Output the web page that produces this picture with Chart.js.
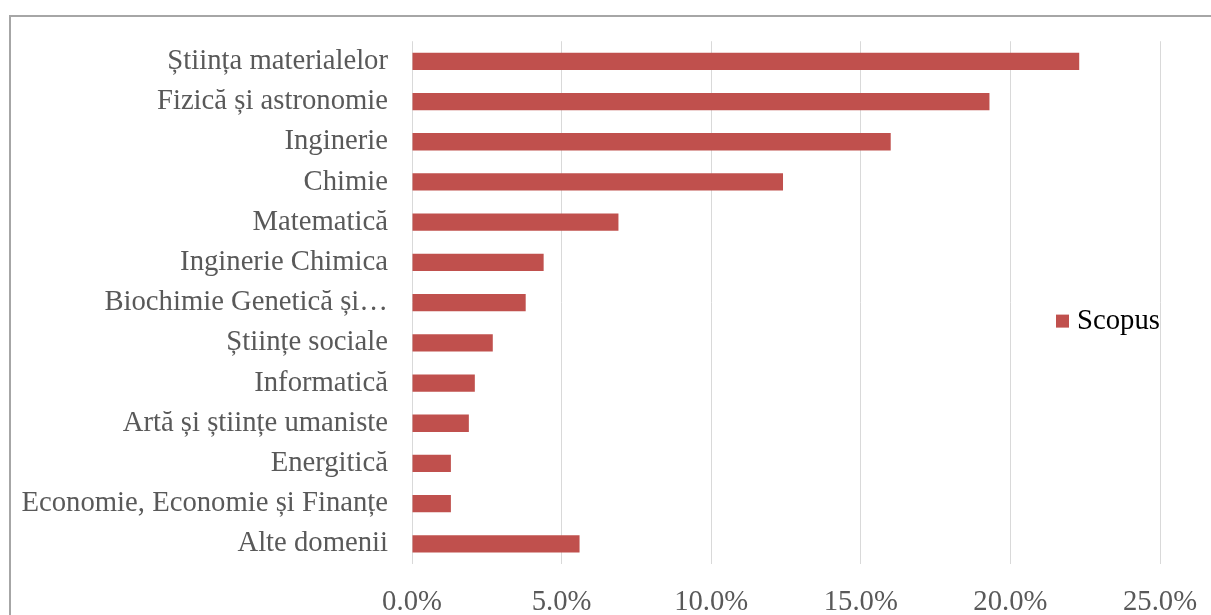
<!DOCTYPE html>
<html>
<head>
<meta charset="utf-8">
<script src="https://cdn.jsdelivr.net/npm/chart.js@4/dist/chart.umd.min.js"></script>
<style>
  html, body { margin: 0; padding: 0; background: #fff; overflow: hidden; }
  #wrap { width: 1211px; height: 615px; position: relative; }
</style>
</head>
<body>
<div id="wrap"><canvas id="grafico" width="1211" height="615"></canvas></div>
<script>
// Domenii (categorii) și ponderi Scopus (%)
const categorii = [
    'Știința materialelor',
    'Fizică și astronomie',
    'Inginerie',
    'Chimie',
    'Matematică',
    'Inginerie Chimica',
    'Biochimie Genetică și…',
    'Științe sociale',
    'Informatică',
    'Artă și științe umaniste',
    'Energitică',
    'Economie, Economie și Finanțe',
    'Alte domenii'
];
const scopus = [22.3, 19.3, 16.0, 12.4, 6.9, 4.4, 3.8, 2.7, 2.1, 1.9, 1.3, 1.3, 5.6];
const numeSerie = 'Scopus';
const tickuriX = [0, 5, 10, 15, 20, 25];

const culoareBara = '#c0504d';
const font = 'Liberation Serif, Times New Roman, serif';
const marimeFont = 28.7;

// Ramă în jurul graficului
const ramaPlugin = {
    id: 'rama',
    beforeDraw(chart) {
        const c = chart.ctx;
        c.save();
        c.fillStyle = '#fff';
        c.fillRect(0, 0, chart.width, chart.height);
        c.strokeStyle = '#a6a6a6';
        c.lineWidth = 2;
        c.strokeRect(10, 16, chart.width + 50, chart.height + 50);
        c.restore();
    }
};

// Legenda în interiorul zonei graficului, în dreapta
const legendaPlugin = {
    id: 'legenda',
    afterDraw(chart) {
        const c = chart.ctx;
        const a = chart.chartArea;
        const y = (a.top + a.bottom) / 2 + 19;
        const x = a.right - 104;
        c.save();
        c.fillStyle = culoareBara;
        c.fillRect(x, y - 7, 13, 13);
        c.fillStyle = '#000';
        c.font = marimeFont + 'px ' + font;
        c.textBaseline = 'middle';
        c.fillText(numeSerie, x + 21, y);
        c.restore();
    }
};

const ctx = document.getElementById('grafico').getContext('2d');
const myChart = new Chart(ctx, {
    type: 'bar',
    data: {
        labels: categorii,
        datasets: [{
            label: numeSerie,
            data: scopus,
            backgroundColor: culoareBara,
            borderWidth: 0,
            categoryPercentage: 0.43,
            barPercentage: 1
        }]
    },
    options: {
        indexAxis: 'y',
        responsive: false,
        animation: false,
        layout: { padding: { top: 41, right: 51, left: 0, bottom: 0 } },
        plugins: {
            legend: { display: false },
            tooltip: { enabled: false }
        },
        scales: {
            x: {
                min: 0,
                max: 25,
                afterBuildTicks(scale) {
                    scale.ticks = tickuriX.map(v => ({ value: v }));
                },
                afterFit(scale) {
                    scale.height = 51;
                    scale.paddingLeft = 0;
                    scale.paddingRight = 0;
                },
                grid: { color: '#d9d9d9', lineWidth: 1, drawTicks: false },
                border: { display: false },
                ticks: {
                    padding: 21,
                    color: '#595959',
                    font: { family: font, size: marimeFont },
                    callback: v => v.toFixed(1) + '%'
                }
            },
            y: {
                afterFit(scale) { scale.width = 412; },
                grid: { display: false, drawTicks: false },
                border: { display: false },
                ticks: {
                    padding: 24,
                    autoSkip: false,
                    color: '#595959',
                    font: { family: font, size: marimeFont }
                }
            }
        }
    },
    plugins: [ramaPlugin, legendaPlugin]
});
</script>
</body>
</html>
